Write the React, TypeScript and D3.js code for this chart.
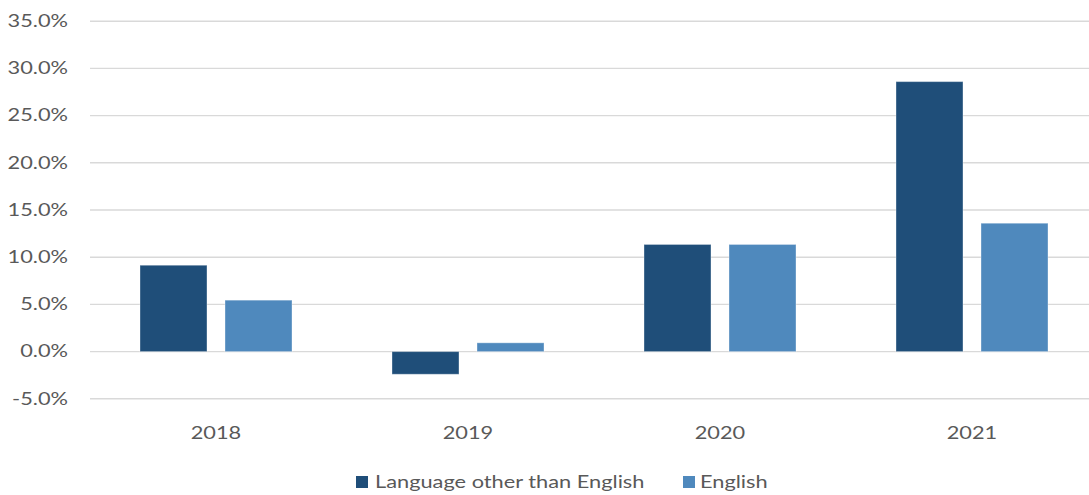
import React from "react";
import * as d3 from "d3";

const years = ["2018", "2019", "2020", "2021"];
const seriesNames = ["Language other than English", "English"];
const otherLang = [9.15, -2.4, 11.35, 28.6];
const english = [5.45, 0.93, 11.35, 13.6];
const yTicks = [-5, 0, 5, 10, 15, 20, 25, 30, 35];
const colors = ["#1F4E79", "#4F89BD"];

const FONT = "Lato, 'Open Sans', sans-serif";
const SX = 1.32;

function T(props: { x: number; y: number; anchor?: string; children: React.ReactNode }) {
  return (
    <text
      transform={`translate(${props.x},${props.y}) scale(${SX},1)`}
      dy="0.35em"
      textAnchor={props.anchor || "start"}
      fontSize={16.5}
      fill="#595959"
      fontFamily={FONT}
    >
      {props.children}
    </text>
  );
}

export default function App() {
  const W = 1089, H = 495;
  const y = d3.scaleLinear().domain([-5, 35]).range([398.8, 21.2]);
  const x0 = d3.scaleBand().domain(years).range([90, 1098]).paddingInner(0).paddingOuter(0);
  const x1 = d3.scaleBand().domain(seriesNames).range([-76, 76]).paddingInner(0.212).paddingOuter(0);
  const series = [otherLang, english];
  const fmt = (v: number) => v.toFixed(1) + "%";
  return (
    <svg width={W} height={H} style={{ position: "absolute", left: 0, top: 0, background: "#fff" }}>
      {yTicks.map((t) => (
        <g key={t}>
          <line x1={90} x2={W} y1={y(t)} y2={y(t)} stroke="#d9d9d9" strokeWidth={1.4} />
          <T x={68} y={y(t)} anchor="end">{fmt(t)}</T>
        </g>
      ))}
      {series.map((vals, si) =>
        vals.map((v, i) => {
          const cx = (x0(years[i]) as number) + x0.bandwidth() / 2;
          const bx = cx + (x1(seriesNames[si]) as number);
          const top = y(Math.max(0, v));
          const bot = y(Math.min(0, v));
          return (
            <rect key={si + "-" + i} x={bx} y={top} width={x1.bandwidth()} height={bot - top}
              fill={colors[si]} stroke="#ffffff" strokeOpacity={0.35} strokeWidth={1} />
          );
        })
      )}
      {years.map((yr) => (
        <T key={yr} x={(x0(yr) as number) + x0.bandwidth() / 2} y={433} anchor="middle">{yr}</T>
      ))}
      <g>
        <rect x={356} y={476} width={12} height={12} fill={colors[0]} />
        <T x={375} y={482}>{seriesNames[0]}</T>
        <rect x={683} y={476} width={12} height={12} fill={colors[1]} />
        <T x={700} y={482}>{seriesNames[1]}</T>
      </g>
    </svg>
  );
}
